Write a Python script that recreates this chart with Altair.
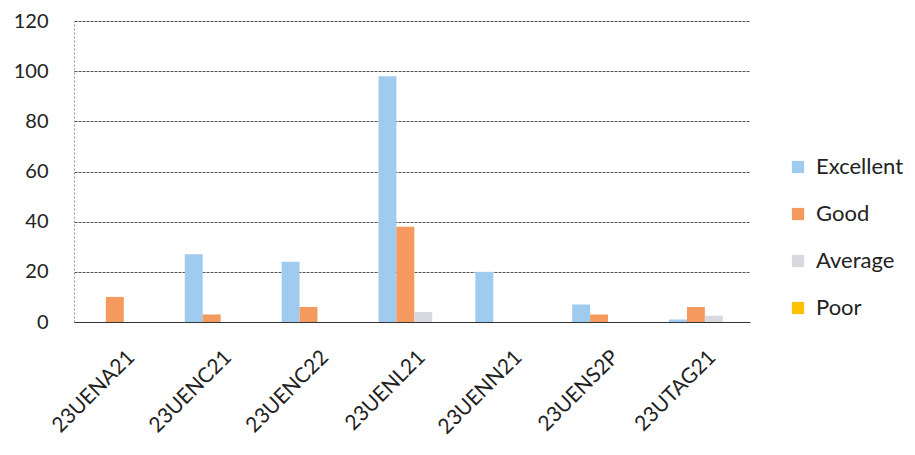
import altair as alt
import pandas as pd

courses = ["23UENA21", "23UENC21", "23UENC22", "23UENL21", "23UENN21", "23UENS2P", "23UTAG21"]
series = ["Excellent", "Good", "Average", "Poor"]
excellent = [0, 27, 24, 98, 20, 7, 1]
good = [10, 3, 6, 38, 0, 3, 6]
average = [0, 0, 0, 4, 0, 0, 2.5]
poor = [0, 0, 0, 0, 0, 0, 0]
colors = ["#9fcbef", "#f49a5e", "#d8d8e0", "#ffc000"]

rows = []
for name, vals in zip(series, [excellent, good, average, poor]):
    for c, v in zip(courses, vals):
        rows.append({"course": c, "rating": name, "value": v})
df = pd.DataFrame(rows)

font = "Lato"

chart = alt.Chart(df).mark_bar().encode(
    x=alt.X("course:N", sort=courses, title=None,
            scale=alt.Scale(paddingInner=0.26, paddingOuter=0.12, align=0.6),
            axis=alt.Axis(labelAngle=-45, labelFontSize=21, labelFont=font, labelColor="#222",
                          ticks=False, domain=True, domainColor="#333", labelPadding=24)),
    xOffset=alt.XOffset("rating:N", sort=series),
    y=alt.Y("value:Q", title=None,
            scale=alt.Scale(domain=[0, 120]),
            axis=alt.Axis(values=[0, 20, 40, 60, 80, 100, 120], labelFontSize=20, labelFont=font,
                          labelColor="#222", ticks=False, domain=True, domainColor="#999",
                          domainDash=[2, 2], grid=True,
                          gridColor="#555", gridDash=[3, 1], gridWidth=1, labelPadding=26)),
    color=alt.Color("rating:N", sort=series, title=None,
                    scale=alt.Scale(domain=series, range=colors),
                    legend=alt.Legend(orient="none", legendX=713, legendY=135,
                                      symbolType="square", symbolSize=150, symbolStrokeWidth=0,
                                      labelFontSize=22, labelFont=font, labelColor="#222",
                                      rowPadding=25, labelOffset=7)),
).properties(
    width=676, height=301,
    autosize=alt.AutoSizeParams(type="none"),
    padding={"left": 66, "top": 13, "right": 157, "bottom": 125},
).configure(background="white").configure_view(stroke=None, strokeWidth=0)

chart.save("out.html", embed_options={"renderer": "svg", "actions": False})
